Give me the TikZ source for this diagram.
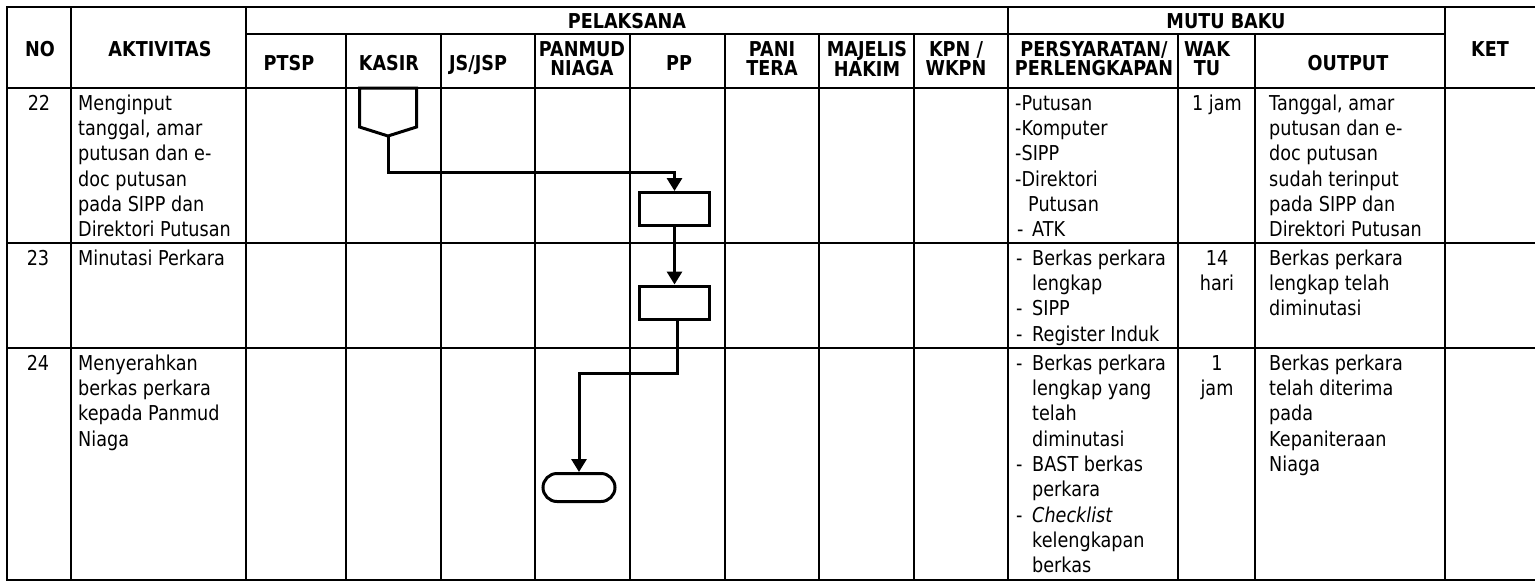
\documentclass[tikz,border=0pt]{standalone}
\usepackage{fontspec}
\setmainfont{DejaVu Sans}[FakeStretch=0.86]
\usetikzlibrary{arrows.meta}
\newcommand{\bodyfont}{\fontsize{20.5pt}{25.3pt}\selectfont}
\newcommand{\headfont}{\fontsize{20.5pt}{19pt}\selectfont\bfseries}
\newcommand{\fs}{\rule{0pt}{16pt}}
\newcommand{\hs}{\rule{0pt}{15pt}}
\newcommand{\dd}{\makebox[16pt][l]{-}}
\newcommand{\ii}{\hspace*{16pt}}
\begin{document}
\begin{tikzpicture}[x=1pt,y=-1pt,
  tab/.style={line width=2.3pt, line cap=rect},
  conn/.style={line width=3pt, -{Triangle[width=15pt,length=13pt]}},
  proc/.style={draw, line width=3pt, minimum width=70pt, minimum height=33pt, inner sep=0pt},
  term/.style={draw, line width=3pt, minimum width=72pt, minimum height=28pt, inner sep=0pt, rounded corners=14pt},
  cell/.style={anchor=north west, inner sep=0pt, align=left, font=\bodyfont},
  ccell/.style={anchor=north, inner sep=0pt, align=center, font=\bodyfont},
  hcell/.style={anchor=north, inner sep=0pt, align=center, font=\headfont}]
\fill[white] (0,0) rectangle (1535,582);
\useasboundingbox (0,0) rectangle (1535,582);
% ---------- table lines ----------
\draw[tab] (7,7) -- (1540,7);
\draw[tab] (246,34) -- (1445,34);
\draw[tab] (7,88) -- (1540,88);
\draw[tab] (7,243) -- (1540,243);
\draw[tab] (7,348) -- (1540,348);
\draw[tab] (7,580) -- (1540,580);
\foreach \x in {7,71,246,1008,1445} \draw[tab] (\x,7) -- (\x,580);
\foreach \x in {346,441,535,630,725,819,914,1178,1255} \draw[tab] (\x,34) -- (\x,580);
% ---------- header ----------
\node[hcell] (hno) at (40,41) {\hs NO};
\node[hcell] (hakt) at (160,41) {\hs AKTIVITAS};
\node[hcell] (hpel) at (627,13.5) {\hs PELAKSANA};
\node[hcell] (hmutu) at (1226,13.5) {\hs MUTU BAKU};
\node[hcell] (hket) at (1490,41.5) {\hs KET};
\node[hcell] (hptsp) at (289,55.5) {\hs PTSP};
\node[hcell] (hkasir) at (389,55.5) {\hs KASIR};
\node[hcell] (hjs) at (478,55.5) {\hs JS/JSP};
\node[hcell] (hpan) at (582,41) {\hs PANMUD\\NIAGA};
\node[hcell] (hpp) at (679,55.5) {\hs PP};
\node[hcell] (hpani) at (772,41) {\hs PANI\\TERA};
\node[hcell] (hmaj) at (867,41) {\hs MAJELIS\\HAKIM};
\node[hcell] (hkpn) at (956,41) {\hs KPN /\\WKPN};
\node[hcell] (hper) at (1094,41) {\hs PERSYARATAN/\\PERLENGKAPAN};
\node[hcell] (hwak) at (1207,41) {\hs WAK\\TU};
\node[hcell] (hout) at (1348,55) {\hs OUTPUT};
% ---------- row 22 ----------
\node[ccell] (n22) at (39,94) {\fs 22};
\node[cell] (a22) at (78,94) {\fs Menginput\\tanggal, amar\\putusan dan e-\\doc putusan\\pada SIPP dan\\Direktori Putusan};
\node[cell] (p22) at (1015,94) {\fs -Putusan\\-Komputer\\-SIPP\\-Direktori\\\hspace*{13pt}Putusan\\\hspace*{2pt}\makebox[15pt][l]{-}ATK};
\node[ccell] (w22) at (1217,94) {\fs 1 jam};
\node[cell] (o22) at (1269,94) {\fs Tanggal, amar\\putusan dan e-\\doc putusan\\sudah terinput\\pada SIPP dan\\Direktori Putusan};
% ---------- row 23 ----------
\node[ccell] (n23) at (38,249) {\fs 23};
\node[cell] (a23) at (78,249) {\fs Minutasi Perkara};
\node[cell] (p23) at (1016,249) {\fs\dd Berkas perkara\\\ii lengkap\\\dd SIPP\\\dd Register Induk};
\node[ccell] (w23) at (1217,249) {\fs 14\\hari};
\node[cell] (o23) at (1269,249) {\fs Berkas perkara\\lengkap telah\\diminutasi};
% ---------- row 24 ----------
\node[ccell] (n24) at (38,354) {\fs 24};
\node[cell] (a24) at (78,354) {\fs Menyerahkan\\berkas perkara\\kepada Panmud\\Niaga};
\node[cell] (p24) at (1016,354) {\fs\dd Berkas perkara\\\ii lengkap yang\\\ii telah\\\ii diminutasi\\\dd BAST berkas\\\ii perkara\\\dd\textit{Checklist}\\\ii kelengkapan\\\ii berkas};
\node[ccell] (w24) at (1217,354) {\fs 1\\jam};
\node[cell] (o24) at (1269,354) {\fs Berkas perkara\\telah diterima\\pada\\Kepaniteraan\\Niaga};
% ---------- flow shapes ----------
\draw[line width=3pt, line join=miter] (359.5,88) -- (416.5,88) -- (416.5,127) -- (388,136) -- (359.5,127) -- cycle;
\coordinate (opc) at (388,136);
\coordinate (k1) at (388,172);
\node[proc] (box1) at (674.5,209) {};
\node[proc] (box2) at (674.5,302.5) {};
\node[term] (endt) at (579,487.5) {};
\coordinate (k2) at (579,373);
% ---------- connectors ----------
\draw[conn] (opc) -- (k1) -| (box1.north);
\draw[conn] (box1.south) -- (box2.north);
\draw[conn] ([xshift=3pt]box2.south) |- (k2) -- (endt.north);
\end{tikzpicture}
\end{document}
